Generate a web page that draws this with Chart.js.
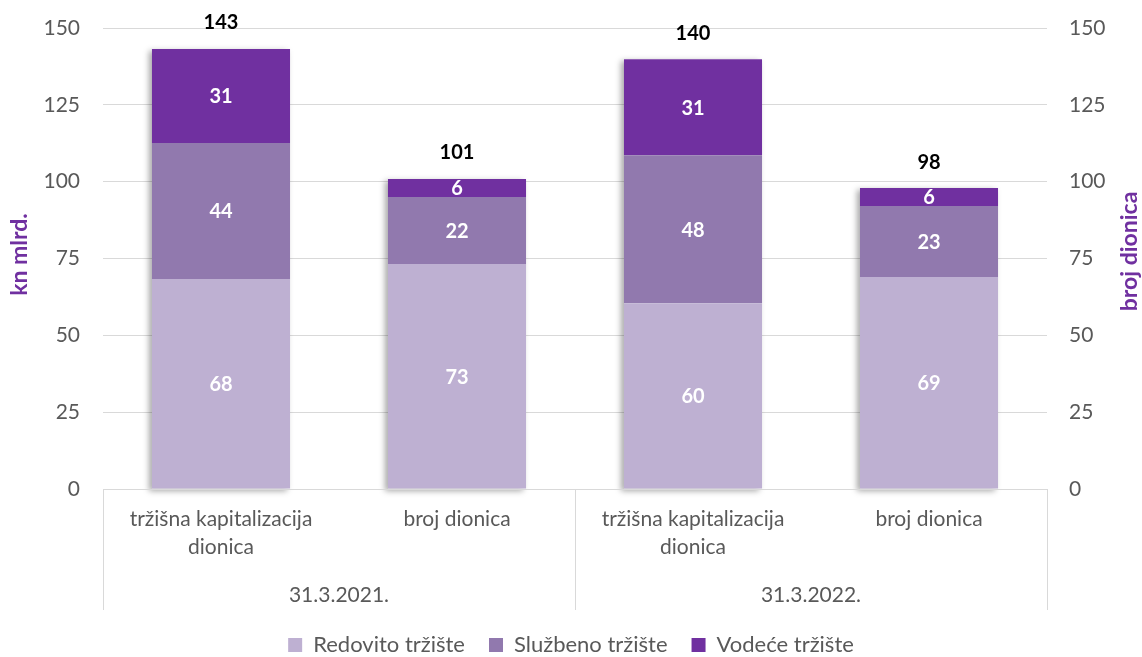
<!DOCTYPE html>
<html>
<head>
<meta charset="utf-8">
<script src="https://cdn.jsdelivr.net/npm/chart.js@4/dist/chart.umd.min.js"></script>
<style>
  html, body { margin: 0; padding: 0; background: #fff; }
  #wrap { width: 1142px; height: 657px; position: relative; }
</style>
</head>
<body>
<div id="wrap"><canvas id="c"></canvas></div>
<script>
const categories = [['tržišna kapitalizacija', 'dionica'], 'broj dionica', ['tržišna kapitalizacija', 'dionica'], 'broj dionica'];
const groups = ['31.3.2021.', '31.3.2022.'];
const seriesNames = ['Redovito tržište', 'Službeno tržište', 'Vodeće tržište'];
const redovito = [68.3, 73.2, 60.4, 69.0];
const sluzbeno = [44.3, 21.8, 48.2, 23.1];
const vodece = [30.6, 5.9, 31.2, 5.8];
const yTicks = [0, 25, 50, 75, 100, 125, 150];
const leftTitle = 'kn mlrd.';
const rightTitle = 'broj dionica';

const colors = ['#BEB0D2', '#9179AE', '#7030A0'];
const FONT = 'Lato, "Open Sans", sans-serif';
const GRAY = '#595959';
const GRID = '#D9D9D9';

const barShadow = {
  id: 'barShadow',
  beforeDatasetsDraw(chart) {
    const ctx = chart.ctx;
    const metas = chart.data.datasets.map((d, i) => chart.getDatasetMeta(i));
    const n = chart.data.labels.length;
    ctx.save();
    ctx.shadowColor = 'rgba(0,0,0,0.35)';
    ctx.shadowBlur = 6;
    ctx.shadowOffsetX = -3;
    ctx.shadowOffsetY = 2;
    ctx.fillStyle = '#ffffff';
    for (let i = 0; i < n; i++) {
      const b0 = metas[0].data[i];
      const bt = metas[metas.length - 1].data[i];
      const left = b0.x - b0.width / 2;
      ctx.fillRect(left, bt.y, b0.width, b0.base - bt.y);
    }
    ctx.restore();
  }
};

const labelsPlugin = {
  id: 'valueLabels',
  afterDatasetsDraw(chart) {
    const ctx = chart.ctx;
    const n = chart.data.labels.length;
    ctx.save();
    ctx.textAlign = 'center';
    ctx.textBaseline = 'middle';
    ctx.font = 'bold 20px ' + FONT;
    chart.data.datasets.forEach((ds, di) => {
      const meta = chart.getDatasetMeta(di);
      meta.data.forEach((el, i) => {
        ctx.fillStyle = '#ffffff';
        ctx.fillText(Math.round(ds.data[i]), el.x, (el.y + el.base) / 2 + 1);
      });
    });
    const last = chart.getDatasetMeta(chart.data.datasets.length - 1);
    for (let i = 0; i < n; i++) {
      let total = 0;
      chart.data.datasets.forEach(ds => total += ds.data[i]);
      const el = last.data[i];
      ctx.fillStyle = '#000000';
      ctx.fillText(Math.round(total), el.x, el.y - 26);
    }
    ctx.restore();
  }
};

const framePlugin = {
  id: 'frame',
  afterDraw(chart) {
    const ctx = chart.ctx;
    const ca = chart.chartArea;
    const x = chart.scales.x;
    const mid = (x.getPixelForValue(1) + x.getPixelForValue(2)) / 2;
    const bottom = ca.bottom + 121;
    ctx.save();
    ctx.strokeStyle = GRID;
    ctx.lineWidth = 1;
    ctx.beginPath();
    ctx.moveTo(ca.left, Math.round(ca.bottom) + 0.5);
    ctx.lineTo(ca.right, Math.round(ca.bottom) + 0.5);
    [ca.left, mid, ca.right].forEach(px => {
      ctx.moveTo(Math.round(px) + 0.5, ca.bottom);
      ctx.lineTo(Math.round(px) + 0.5, bottom);
    });
    ctx.stroke();
    // axis titles (both read bottom-to-top)
    ctx.fillStyle = '#7030A0';
    ctx.font = 'bold 23px ' + FONT;
    ctx.textAlign = 'center';
    ctx.textBaseline = 'middle';
    const cy = (ca.top + ca.bottom) / 2;
    ctx.save();
    ctx.translate(20, cy - 4);
    ctx.rotate(-Math.PI / 2);
    ctx.fillText(leftTitle, 0, 0);
    ctx.restore();
    ctx.save();
    ctx.translate(1130, cy - 7);
    ctx.rotate(-Math.PI / 2);
    ctx.fillText(rightTitle, 0, 0);
    ctx.restore();
    ctx.restore();
  }
};

const datasets = [redovito, sluzbeno, vodece].map((arr, i) => ({
  label: seriesNames[i],
  data: arr,
  backgroundColor: colors[i],
  borderWidth: 0,
  categoryPercentage: 1.0,
  barPercentage: 0.585,
  xAxisID: 'x',
  yAxisID: 'y'
}));

new Chart(document.getElementById('c'), {
  type: 'bar',
  data: { labels: categories, datasets },
  options: {
    responsive: true,
    maintainAspectRatio: false,
    animation: false,
    layout: { padding: { top: 28, left: 0, right: 0, bottom: -9 } },
    plugins: {
      legend: {
        position: 'bottom',
        labels: {
          boxWidth: 14, boxHeight: 14, padding: 24,
          color: GRAY, font: { family: FONT, size: 22 }
        }
      },
      tooltip: { enabled: false }
    },
    scales: {
      x: {
        stacked: true,
        grid: { display: false, drawTicks: false },
        border: { display: false },
        ticks: { color: GRAY, font: { family: FONT, size: 21, lineHeight: 1.3 }, padding: 17, maxRotation: 0, autoSkip: false },
        afterFit(s) { s.height = 73; }
      },
      x2: {
        type: 'category',
        labels: groups,
        position: 'bottom',
        offset: true,
        grid: { display: false, drawTicks: false },
        border: { display: false },
        ticks: { color: GRAY, font: { family: FONT, size: 21 }, padding: 21 },
        afterFit(s) { s.height = 48; }
      },
      y: {
        stacked: true,
        min: 0, max: 150,
        afterBuildTicks(s) { s.ticks = yTicks.map(v => ({ value: v })); },
        grid: { color: GRID, drawTicks: false },
        border: { display: false },
        ticks: { color: GRAY, font: { family: FONT, size: 21, lineHeight: 0.2 }, padding: 23 },
        afterFit(s) { s.width = 103; }
      },
      y2: {
        position: 'right',
        min: 0, max: 150,
        afterBuildTicks(s) { s.ticks = yTicks.map(v => ({ value: v })); },
        grid: { drawOnChartArea: false, drawTicks: false },
        border: { display: false },
        ticks: { color: GRAY, font: { family: FONT, size: 21, lineHeight: 0.2 }, padding: 22 },
        afterFit(s) { s.width = 95; }
      }
    }
  },
  plugins: [barShadow, labelsPlugin, framePlugin]
});
</script>
</body>
</html>
